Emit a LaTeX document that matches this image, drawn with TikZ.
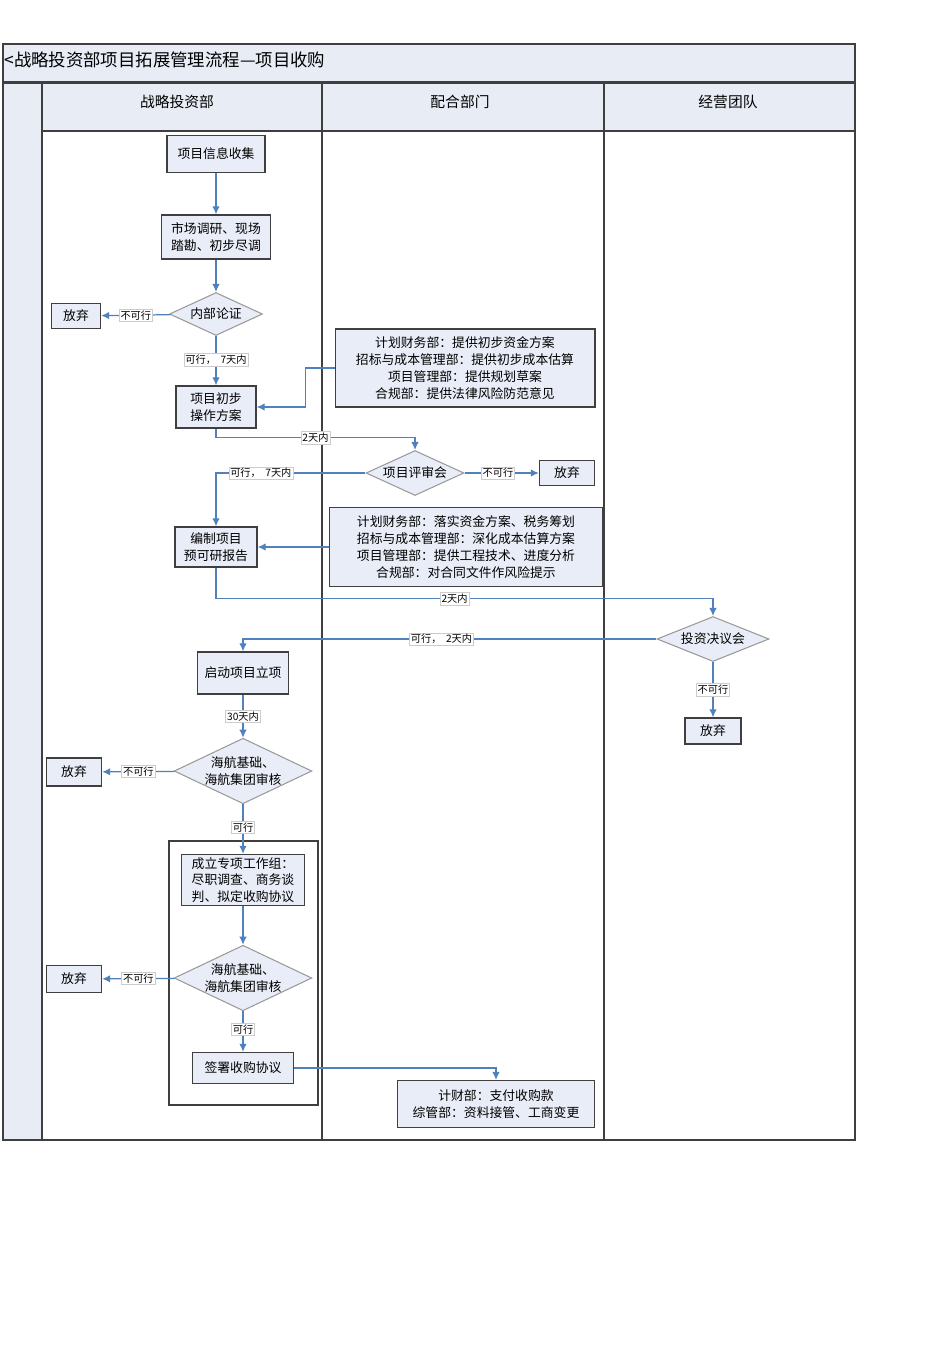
\documentclass[tikz,border=0pt]{standalone}
\usepackage{fontspec}
\setmainfont{Noto Sans CJK SC}
\usepackage{xcolor}
\usepackage{tikz}
\usetikzlibrary{shapes.geometric,arrows.meta,positioning,calc}
\definecolor{boxfill}{HTML}{E9EDF7}
\definecolor{hdrfill}{HTML}{E8ECF5}
\definecolor{boxline}{HTML}{3F3F3F}
\definecolor{dialine}{HTML}{9A9A9A}
\definecolor{flow}{HTML}{4F81BD}

\begin{document}
\begin{tikzpicture}[
  x=0.02cm,y=-0.02cm,
  fbox/.style={draw=boxline,line width=0.8pt,fill=boxfill,inner sep=1pt,
               align=center,font=\fontsize{7.3}{9.6}\selectfont},
  dbox/.style={shape=diamond,draw=dialine,line width=0.6pt,fill=boxfill,
               aspect=2.1,inner sep=0pt,align=center,
               font=\fontsize{7.3}{9.6}\selectfont},
  sbox/.style={draw=boxline,line width=0.6pt,fill=boxfill,inner sep=1pt,
               align=center,font=\fontsize{7.3}{9.6}\selectfont},
  arr/.style={-{Latex[length=1.6mm,width=1.5mm]},flow,line width=0.7pt},
  lbl/.style={fill=white,draw=black!20,text=black,line width=0.3pt,inner sep=0.8pt,
              font=\fontsize{5.8}{6}\selectfont},
  lane/.style={draw=boxline,line width=0.6pt}
]
\useasboundingbox (0,0) rectangle (950,1346);

% 表头与泳道
\fill[hdrfill] (3,44) rectangle (855,82);
\fill[hdrfill] (3,82) rectangle (42,1140);
\fill[hdrfill] (42,84) rectangle (855,131);
\draw[lane] (3,44) rectangle (855,1140);
\draw[boxline,line width=1.2pt] (3,82.5) -- (855,82.5);
\draw[lane] (42,83) -- (42,1140);
\draw[lane] (42,131) -- (855,131);
\draw[lane] (322,83) -- (322,1140);
\draw[lane] (604,83) -- (604,1140);
\node[anchor=west,inner sep=0pt,font=\fontsize{9.9}{11}\selectfont]
  (title) at (4,60) {<战略投资部项目拓展管理流程—项目收购};
\node[font=\fontsize{8.4}{10}\selectfont] (hd1) at (177,102) {战略投资部};
\node[font=\fontsize{8.4}{10}\selectfont] (hd2) at (460,102) {配合部门};
\node[font=\fontsize{8.4}{10}\selectfont] (hd3) at (728,102) {经营团队};

% 战略投资部
\node[fbox,minimum width=1.96cm,minimum height=0.74cm] (info) at (216,154) {项目信息收集};
\node[fbox,minimum width=2.18cm,minimum height=0.88cm] (survey) at (216,237)
  {市场调研、现场\\踏勘、初步尽调};
\node[dbox,minimum width=1.86cm,minimum height=0.86cm] (argue) at (216,314) {内部论证};
\node[fbox,minimum width=0.98cm,minimum height=0.5cm] (quit1) at (76,316) {放弃};
\node[fbox,minimum width=1.6cm,minimum height=0.84cm] (plan) at (216,407)
  {项目初步\\操作方案};
\node[fbox,minimum width=1.64cm,minimum height=0.8cm] (report) at (216,547)
  {编制项目\\预可研报告};
\node[fbox,minimum width=1.82cm,minimum height=0.84cm] (start) at (243,673) {启动项目立项};
\node[dbox,minimum width=2.68cm,minimum height=1.28cm] (audit1) at (243,771)
  {海航基础、\\海航集团审核};
\node[fbox,minimum width=1.1cm,minimum height=0.56cm] (quit4) at (74,772) {放弃};
\draw[boxline,line width=0.6pt] (169,841) rectangle (318,1105);
\node[fbox,minimum width=2.46cm,minimum height=1.02cm,align=left] (team) at (243,880)
  {成立专项工作组：\\尽职调查、商务谈\\判、拟定收购协议};
\node[dbox,minimum width=2.66cm,minimum height=1.3cm] (audit2) at (243,978)
  {海航基础、\\海航集团审核};
\node[fbox,minimum width=1.1cm,minimum height=0.54cm] (quit5) at (74,979) {放弃};
\node[fbox,minimum width=2.02cm,minimum height=0.62cm] (sign) at (243,1068) {签署收购协议};

% 配合部门
\node[sbox,minimum width=5.2cm,minimum height=1.56cm] (sup1) at (465,368)
  {计划财务部：提供初步资金方案\\招标与成本管理部：提供初步成本估算\\
   项目管理部：提供规划草案\\合规部：提供法律风险防范意见};
\node[dbox,minimum width=1.96cm,minimum height=0.9cm] (review) at (415,473) {项目评审会};
\node[fbox,minimum width=1.1cm,minimum height=0.5cm] (quit2) at (567,473) {放弃};
\node[sbox,minimum width=5.46cm,minimum height=1.58cm] (sup2) at (466,547)
  {计划财务部：落实资金方案、税务筹划\\招标与成本管理部：深化成本估算方案\\
   项目管理部：提供工程技术、进度分析\\合规部：对合同文件作风险提示};
\node[sbox,minimum width=3.94cm,minimum height=0.94cm] (sup3) at (496,1104)
  {计财部：支付收购款\\综管部：资料接管、工商变更};

% 经营团队
\node[dbox,minimum width=2.24cm,minimum height=0.9cm] (decide) at (713,639) {投资决议会};
\node[fbox,minimum width=1.12cm,minimum height=0.52cm] (quit3) at (713,731) {放弃};

% 箭头
\draw[arr] (info) -- (survey);
\draw[arr] (survey) -- (argue);
\draw[arr] (argue) -- node[lbl]{不可行} (quit1);
\draw[arr] (argue) -- node[lbl,pos=0.48]{可行，~~7天内} (plan);
\draw[arr] (sup1.west) -- ++(-29,0) |- (plan.east);
\draw[arr] (plan.south) -- ++(0,9) -| node[lbl,pos=0.25]{2天内} (review.north);
\draw[arr] (review) -- node[lbl,pos=0.45]{不可行} (quit2);
\draw[arr] (review.west) -| node[lbl,pos=0.35]{可行，~~7天内} (report.north);
\draw[arr] (sup2.west) -- (report.east);
\draw[arr] (report.south) -- ++(0,31) -| node[lbl,pos=0.24]{2天内} (decide.north);
\draw[arr] (decide) -- node[lbl]{不可行} (quit3);
\draw[arr] (decide.west) -| node[lbl,pos=0.26]{可行，~~2天内} (start.north);
\draw[arr] (start) -- node[lbl]{30天内} (audit1);
\draw[arr] (audit1) -- node[lbl]{不可行} (quit4);
\draw[arr] (audit1) -- node[lbl,pos=0.47]{可行} (team);
\draw[arr] (team) -- (audit2);
\draw[arr] (audit2) -- node[lbl]{不可行} (quit5);
\draw[arr] (audit2) -- node[lbl,pos=0.45]{可行} (sign);
\draw[arr] (sign.east) -| (sup3.north);
\end{tikzpicture}
\end{document}
